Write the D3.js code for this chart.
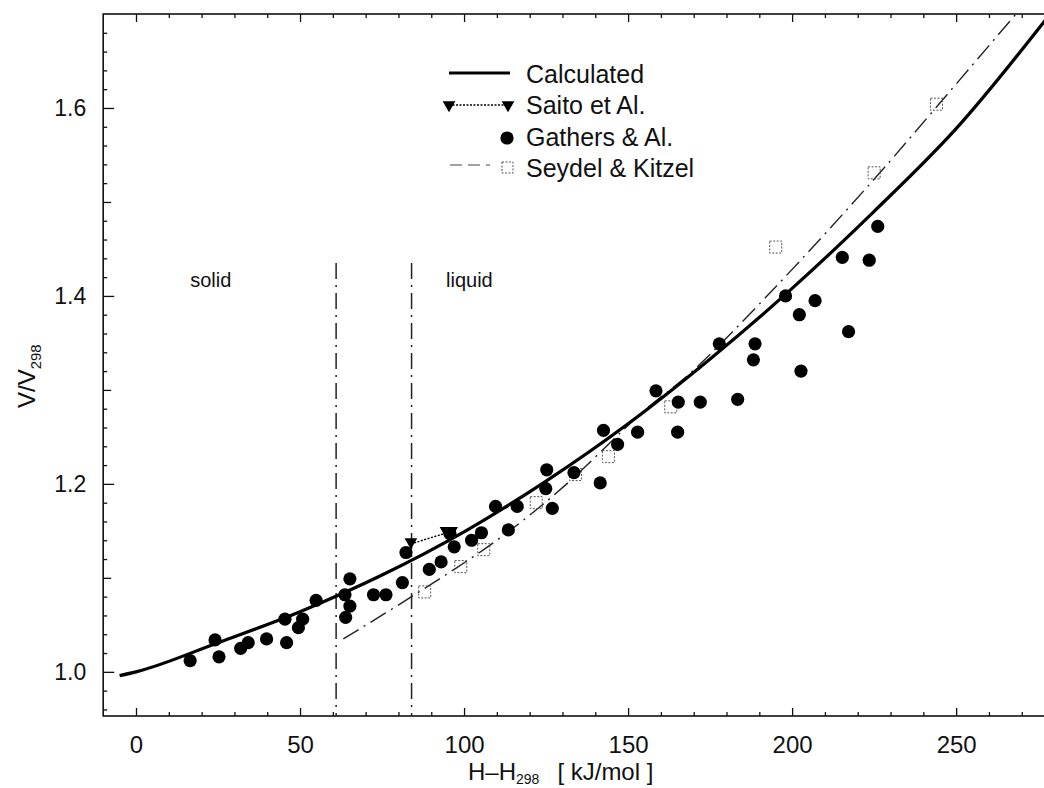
<!DOCTYPE html>
<html>
<head>
<meta charset="utf-8">
<script src="https://cdn.jsdelivr.net/npm/d3@7"></script>
<style>
  html, body { margin: 0; padding: 0; background: #fff; }
  svg { display: block; }
  text { font-family: "Liberation Sans", Arial, Helvetica, sans-serif; fill: #111; }
</style>
</head>
<body>
<svg id="chart" width="1044" height="788"></svg>
<script>
// ---------------- data ----------------
const xDomain = [-10, 278];
const yDomain = [0.953, 1.70];

const xMajorTicks = [0, 50, 100, 150, 200, 250];
const xTickLabels = ["0", "50", "100", "150", "200", "250"];
const yMajorTicks = [1.0, 1.2, 1.4, 1.6];
const yTickLabels = ["1.0", "1.2", "1.4", "1.6"];

// Calculated curve
const calcX = [-5, 0, 25, 50, 75, 100, 125, 150, 175, 200, 225, 250, 278];
const calcY = [0.996, 1.000, 1.031, 1.064, 1.103, 1.149, 1.203, 1.264, 1.333, 1.408, 1.490, 1.578, 1.697];

// Saito et Al.
const saitoX = [83.8, 94.5, 96.2];
const saitoY = [1.136, 1.148, 1.148];

// Gathers & Al.
const gathersX = [16.5, 24.1, 25.3, 31.9, 34.2, 39.8, 45.4, 45.9, 49.5, 50.8, 54.9,
  63.7, 65.2, 65.2, 63.9, 72.4, 76.2, 81.2, 82.3, 89.4, 93.0, 97.0, 95.7, 102.3, 105.3,
  109.6, 113.5, 116.2, 125.2, 124.9, 126.9, 133.5, 141.5, 142.5, 146.8, 152.9, 158.5,
  165.3, 165.1, 172.0, 177.8, 183.4, 188.2, 188.7, 198.0, 202.2, 202.7, 207.0, 215.3,
  217.2, 223.5, 226.1];
const gathersY = [1.012, 1.034, 1.016, 1.025, 1.031, 1.035, 1.056, 1.031, 1.047, 1.056, 1.076,
  1.082, 1.099, 1.070, 1.058, 1.082, 1.082, 1.095, 1.127, 1.109, 1.117, 1.133, 1.147, 1.140, 1.148,
  1.176, 1.151, 1.176, 1.215, 1.195, 1.174, 1.212, 1.201, 1.257, 1.242, 1.255, 1.299,
  1.287, 1.255, 1.287, 1.349, 1.290, 1.332, 1.349, 1.400, 1.380, 1.320, 1.395, 1.441,
  1.362, 1.438, 1.474];

// Seydel & Kitzel
const seydelLineX = [63.2, 84, 110, 130, 154.6, 169, 194, 224.7, 244, 268];
const seydelLineY = [1.035, 1.080, 1.140, 1.196, 1.277, 1.318, 1.406, 1.523, 1.601, 1.699];
const seydelX = [88, 99, 106, 122, 134, 144, 163, 195, 225, 244];
const seydelY = [1.085, 1.112, 1.130, 1.180, 1.210, 1.229, 1.282, 1.452, 1.531, 1.604];

// phase boundaries
const phaseX = [61, 84];
const phaseTop = 1.435;
const phaseLabels = ["solid", "liquid"];
const phaseLabelX = [16.5, 94.5];
const phaseLabelY = 1.41;

const legendLabels = ["Calculated", "Saito et Al.", "Gathers & Al.", "Seydel & Kitzel"];

// ---------------- layout ----------------
const svg = d3.select("#chart");
const x = d3.scaleLinear().domain(xDomain).range([103.2, 1048]);
const y = d3.scaleLinear().domain(yDomain).range([716, 14]);

const g = svg.append("g");

// frame
g.append("rect")
  .attr("x", x(xDomain[0])).attr("y", y(yDomain[1]))
  .attr("width", x(xDomain[1]) - x(xDomain[0]))
  .attr("height", y(yDomain[0]) - y(yDomain[1]))
  .attr("fill", "none").attr("stroke", "#111").attr("stroke-width", 1.6);

function styleAxis(sel) {
  sel.select(".domain").remove();
  sel.selectAll(".tick line").attr("stroke", "#111").attr("stroke-width", 1.3);
  sel.selectAll(".tick text").attr("fill", "#111")
    .style("font-family", '"Liberation Sans", Arial, sans-serif');
}

const xMinor = d3.range(0, 280, 10).filter(v => v % 50 !== 0);
const yMinor = d3.range(0, 38).map(i => +(0.96 + i * 0.02).toFixed(2))
  .filter(v => v <= 1.70 && Math.round(v * 100) % 10 !== 0);
const yMid = [1.1, 1.3, 1.5, 1.7].filter(v => v < 1.70);

// bottom axis
g.append("g").attr("transform", `translate(0,${y(yDomain[0])})`)
  .call(d3.axisBottom(x).tickValues(xMajorTicks).tickSize(-8).tickPadding(20)
    .tickFormat((d, i) => xTickLabels[i]))
  .call(styleAxis)
  .call(s => s.selectAll("text").style("font-size", "24px"));
g.append("g").attr("transform", `translate(0,${y(yDomain[0])})`)
  .call(d3.axisBottom(x).tickValues(xMinor).tickSize(-4).tickFormat(""))
  .call(styleAxis);
// top axis
g.append("g").attr("transform", `translate(0,${y(yDomain[1])})`)
  .call(d3.axisTop(x).tickValues(xMajorTicks).tickSize(-8).tickFormat(""))
  .call(styleAxis);
g.append("g").attr("transform", `translate(0,${y(yDomain[1])})`)
  .call(d3.axisTop(x).tickValues(xMinor).tickSize(-4).tickFormat(""))
  .call(styleAxis);

// left axis
g.append("g").attr("transform", `translate(${x(xDomain[0])},0)`)
  .call(d3.axisLeft(y).tickValues(yMajorTicks).tickSize(-11).tickPadding(17)
    .tickFormat((d, i) => yTickLabels[i]))
  .call(styleAxis)
  .call(s => s.selectAll("text").style("font-size", "23px"));
g.append("g").attr("transform", `translate(${x(xDomain[0])},0)`)
  .call(d3.axisLeft(y).tickValues(yMid).tickSize(-8).tickFormat(""))
  .call(styleAxis);
g.append("g").attr("transform", `translate(${x(xDomain[0])},0)`)
  .call(d3.axisLeft(y).tickValues(yMinor).tickSize(-4).tickFormat(""))
  .call(styleAxis);

// axis titles
const xt = svg.append("text").attr("x", 468).attr("y", 780).style("font-size", "24px");
xt.append("tspan").text("H–H");
xt.append("tspan").attr("dy", 4).style("font-size", "14px").text("298");
xt.append("tspan").attr("dy", -4).attr("dx", 18).text("[ kJ/mol ]");

const yt = svg.append("text").attr("transform", "translate(35,408) rotate(-90)")
  .style("font-size", "24px");
yt.append("tspan").text("V/V");
yt.append("tspan").attr("dy", 6).style("font-size", "15px").text("298");

// phase lines
g.selectAll(".phase").data(phaseX).join("line")
  .attr("x1", d => x(d)).attr("x2", d => x(d))
  .attr("y1", y(phaseTop)).attr("y2", y(yDomain[0]))
  .attr("stroke", "#222").attr("stroke-width", 1.5)
  .attr("stroke-dasharray", "16,6,2,6");
g.selectAll(".plabel").data(phaseLabels).join("text")
  .attr("x", (d, i) => x(phaseLabelX[i])).attr("y", y(phaseLabelY))
  .style("font-size", "20px").text(d => d);

// Seydel line
const line = d3.line().curve(d3.curveCatmullRom.alpha(0.5));
g.append("path")
  .attr("d", line(seydelLineX.map((v, i) => [x(v), y(seydelLineY[i])])))
  .attr("fill", "none").attr("stroke", "#222").attr("stroke-width", 1.4)
  .attr("stroke-dasharray", "18,6,2,6");

// Seydel squares
g.selectAll(".sq").data(seydelX).join("rect")
  .attr("x", (d) => x(d) - 6).attr("y", (d, i) => y(seydelY[i]) - 6)
  .attr("width", 12).attr("height", 12)
  .attr("fill", "none").attr("stroke", "#555").attr("stroke-width", 1)
  .attr("stroke-dasharray", "2,1.5");

// Calculated
g.append("path")
  .attr("d", d3.line().curve(d3.curveMonotoneX)(calcX.map((v, i) => [x(v), y(calcY[i])])))
  .attr("fill", "none").attr("stroke", "#000").attr("stroke-width", 3.2);

// Gathers circles
g.selectAll(".gc").data(gathersX).join("circle")
  .attr("cx", d => x(d)).attr("cy", (d, i) => y(gathersY[i]))
  .attr("r", 6.6).attr("fill", "#000");

// Saito
g.append("path")
  .attr("d", d3.line().curve(d3.curveBasis)(saitoX.map((v, i) => [x(v), y(saitoY[i])])))
  .attr("fill", "none").attr("stroke", "#000").attr("stroke-width", 1.4)
  .attr("stroke-dasharray", "2,1.5");
const tri = d3.symbol().type(d3.symbolTriangle).size(70);
g.selectAll(".tri").data(saitoX).join("path")
  .attr("d", tri)
  .attr("transform", (d, i) => `translate(${x(d)},${y(saitoY[i]) - 2}) rotate(180)`)
  .attr("fill", "#000");

// legend
const L = svg.append("g");
L.append("line").attr("x1", 449).attr("x2", 510).attr("y1", 73).attr("y2", 73)
  .attr("stroke", "#000").attr("stroke-width", 3);
L.append("line").attr("x1", 449).attr("x2", 508).attr("y1", 105).attr("y2", 105)
  .attr("stroke", "#000").attr("stroke-width", 1.5).attr("stroke-dasharray", "2,1.5");
[449, 508].forEach(px => L.append("path").attr("d", tri)
  .attr("transform", `translate(${px},105) rotate(180)`).attr("fill", "#000"));
L.append("circle").attr("cx", 507).attr("cy", 138).attr("r", 6.6).attr("fill", "#000");
L.append("line").attr("x1", 450).attr("x2", 490).attr("y1", 165).attr("y2", 165)
  .attr("stroke", "#444").attr("stroke-width", 1).attr("stroke-dasharray", "12,6");
L.append("rect").attr("x", 502).attr("y", 162).attr("width", 11).attr("height", 11)
  .attr("fill", "none").attr("stroke", "#555").attr("stroke-dasharray", "2,1.5");
L.selectAll(".lt").data(legendLabels).join("text")
  .attr("x", 526).attr("y", (d, i) => 83 + i * 31.3)
  .style("font-size", "25px").text(d => d);
</script>
</body>
</html>
